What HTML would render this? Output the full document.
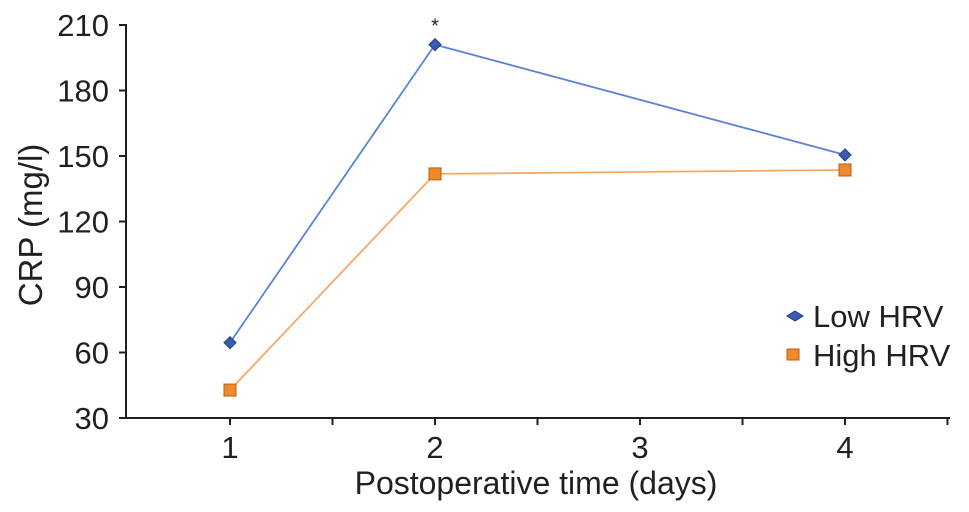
<!DOCTYPE html>
<html><head><meta charset="utf-8"><style>
html,body{margin:0;padding:0;background:#fff;width:969px;height:512px;overflow:hidden}
text{font-family:"Liberation Sans",sans-serif;fill:#231f20}
</style></head><body>
<svg id="chart" width="969" height="512" xmlns="http://www.w3.org/2000/svg"></svg>
<script>
const categories = ["1","2","3","4"];
const lowHRV = [64.5, 201, null, 150.5];
const highHRV = [42.8, 141.8, null, 143.6];
const yTicks = [30, 60, 90, 120, 150, 180, 210];
const significance = ["", "*", "", ""];

const NS = "http://www.w3.org/2000/svg";
const svg = document.getElementById("chart");
const x0 = 126, yBase = 418, yTop = 25, xEnd = 950;
const step = 205;
const xPos = i => 230 + i * step;
const yPos = v => yBase - (v - 30) / (210 - 30) * (yBase - yTop);
function mk(tag, attrs, parent) {
  const e = document.createElementNS(NS, tag);
  for (const k in attrs) e.setAttribute(k, attrs[k]);
  (parent || svg).appendChild(e);
  return e;
}
const yAxis = mk("line", {x1: x0, y1: yTop - 1, x2: x0, y2: yBase, stroke: "#231f20", "stroke-width": 2});


const xAxis = mk("line", {x1: x0 - 6, y1: yBase, x2: xEnd, y2: yBase, stroke: "#231f20", "stroke-width": 2});


yTicks.forEach(v => {
  const y = yPos(v);
  const t = mk("line", {x1: x0 - 7, y1: y, x2: x0, y2: y, stroke: "#231f20", "stroke-width": 2});
  
  
  const l = mk("text", {x: x0 - 17, y: y + 11, "text-anchor": "end", "font-size": 31});
  l.textContent = v;
  
  
});
for (let k = 0; k <= 7; k++) {
  const x = 230 + k * step / 2;
  if (x > xEnd) break;
  const t = mk("line", {x1: x, y1: yBase, x2: x, y2: yBase + 7, stroke: "#231f20", "stroke-width": 2});
  
  
}
categories.forEach((c, i) => {
  const l = mk("text", {x: xPos(i), y: yBase + 40, "text-anchor": "middle", "font-size": 31});
  l.textContent = c;
  
  
});
const yt = mk("text", {x: 0, y: 0, "text-anchor": "middle", "font-size": 33, transform: "translate(42,225) rotate(-90)"});
yt.textContent = "CRP (mg/l)";


const xt = mk("text", {x: 536, y: 494, "text-anchor": "middle", "font-size": 32});
xt.textContent = "Postoperative time (days)";



function series(vals, color, name, marker) {
  const pts = [];
  vals.forEach((v, i) => { if (v != null) pts.push([xPos(i), yPos(v)]); });
  const pl = mk("polyline", {points: pts.map(p => p.join(",")).join(" "), fill: "none", stroke: color, "stroke-width": 1.8});
  
  
  pts.forEach(p => {
    let m;
    if (marker === "diamond") {
      m = mk("polygon", {points: `${p[0]},${p[1]-6} ${p[0]+6},${p[1]} ${p[0]},${p[1]+6} ${p[0]-6},${p[1]}`, fill: "#3a5dae", stroke: "#1f3c88", "stroke-width": 1});
    } else {
      m = mk("rect", {x: p[0]-6, y: p[1]-6, width: 12, height: 12, fill: "#f0892a", stroke: "#b85f10", "stroke-width": 1});
    }
    
    
  });
}
series(lowHRV, "#5b82d6", "low-hrv", "diamond");
series(highHRV, "#f6a964", "high-hrv", "square");
significance.forEach((s, i) => {
  if (!s) return;
  const t = mk("text", {x: xPos(i), y: yPos(lowHRV[i]) - 12, "text-anchor": "middle", "font-size": 20});
  t.textContent = s;
  
  
});
const lg = mk("g", {});


const d = mk("polygon", {points: "795,311 803,316 795,321 787,316", fill: "#3a5dae", stroke: "#1f3c88"}, lg);


const t1 = mk("text", {x: 813, y: 327, "font-size": 31}, lg);
t1.textContent = "Low HRV";


const r = mk("rect", {x: 787, y: 349, width: 12, height: 11, fill: "#f0892a", stroke: "#b85f10"}, lg);


const t2 = mk("text", {x: 813, y: 366, "font-size": 31}, lg);
t2.textContent = "High HRV";


</script>
</body></html>
